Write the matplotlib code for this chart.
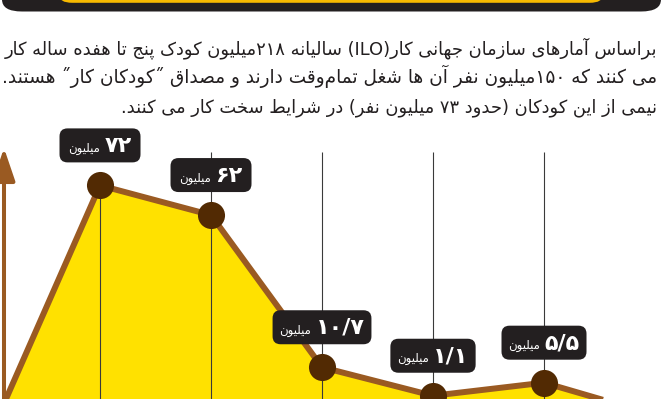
import re
import numpy as np
import matplotlib
matplotlib.use("Agg")
import matplotlib.pyplot as plt
from matplotlib.patches import FancyBboxPatch
from matplotlib.transforms import ScaledTranslation

# values read from the infographic (million children)
VALUES = [72, 62, 10.7, 1.1, 5.5]
VALUE_LABELS = ["۷۲", "۶۲", "۱۰/۷", "۱/۱", "۵/۵"]
UNIT = "میلیون"
PARAGRAPH = [
    "براساس آمارهای سازمان جهانی کار(ILO) سالیانه ۲۱۸میلیون کودک پنج تا هفده ساله کار",
    "می کنند که ۱۵۰میلیون نفر آن ها شغل تمام\u200cوقت دارند و مصداق ˝کودکان کار˝ هستند.",
    "نیمی از این کودکان (حدود ۷۳ میلیون نفر) در شرایط سخت کار می کنند.",
]

INK = "#231f20"
YELLOW = "#ffe100"
BROWN = "#9a5a22"
DARK_BROWN = "#522a03"

# presentation forms: isolated, final, (initial, medial)
FORMS = {
    "آ": "\ufe81\ufe82", "ا": "\ufe8d\ufe8e", "ب": "\ufe8f\ufe90\ufe91\ufe92",
    "پ": "\ufb56\ufb57\ufb58\ufb59", "ت": "\ufe95\ufe96\ufe97\ufe98",
    "ج": "\ufe9d\ufe9e\ufe9f\ufea0", "چ": "\ufb7a\ufb7b\ufb7c\ufb7d",
    "ح": "\ufea1\ufea2\ufea3\ufea4", "خ": "\ufea5\ufea6\ufea7\ufea8",
    "د": "\ufea9\ufeaa", "ذ": "\ufeab\ufeac", "ر": "\ufead\ufeae",
    "ز": "\ufeaf\ufeb0", "ژ": "\ufb8a\ufb8b", "س": "\ufeb1\ufeb2\ufeb3\ufeb4",
    "ش": "\ufeb5\ufeb6\ufeb7\ufeb8", "ص": "\ufeb9\ufeba\ufebb\ufebc",
    "ض": "\ufebd\ufebe\ufebf\ufec0", "ط": "\ufec1\ufec2\ufec3\ufec4",
    "ظ": "\ufec5\ufec6\ufec7\ufec8", "ع": "\ufec9\ufeca\ufecb\ufecc",
    "غ": "\ufecd\ufece\ufecf\ufed0", "ف": "\ufed1\ufed2\ufed3\ufed4",
    "ق": "\ufed5\ufed6\ufed7\ufed8", "ک": "\ufb8e\ufb8f\ufb90\ufb91",
    "گ": "\ufb92\ufb93\ufb94\ufb95", "ل": "\ufedd\ufede\ufedf\ufee0",
    "م": "\ufee1\ufee2\ufee3\ufee4", "ن": "\ufee5\ufee6\ufee7\ufee8",
    "و": "\ufeed\ufeee", "ه": "\ufee9\ufeea\ufeeb\ufeec",
    "ی": "\ufbfc\ufbfd\ufbfe\ufbff",
}
MIRROR = {"(": ")", ")": "("}


def rtl(text):
    out = []
    for i, c in enumerate(text):
        if c not in FORMS:
            out.append(c)
            continue
        f = FORMS[c]
        prev = text[i - 1] if i > 0 else ""
        nxt = text[i + 1] if i + 1 < len(text) else ""
        jp = len(FORMS.get(prev, "")) == 4
        jn = len(f) == 4 and nxt in FORMS
        out.append(f[3] if jp and jn else f[1] if jp else f[2] if jn else f[0])
    s = "".join(out).replace("\u200c", "")
    runs = re.findall(r"[A-Za-z0-9\u06f0-\u06f9]+(?:/[0-9\u06f0-\u06f9]+)*|.", s)
    return "".join(MIRROR.get(r, r) for r in reversed(runs))


fig = plt.figure(figsize=(6.63, 3.99), dpi=100)
fig.patch.set_facecolor("white")

# header bar (cut off at the top)
fig.add_artist(FancyBboxPatch((2 / 663, 1 - 11.5 / 399), 659 / 663, 0.2,
                              boxstyle="round,pad=0,rounding_size=0.03",
                              transform=fig.transFigure, fc=INK, ec="none"))
fig.add_artist(FancyBboxPatch((59 / 663, 1 - 2.8 / 399), 544 / 663, 0.2,
                              boxstyle="round,pad=0,rounding_size=0.02",
                              transform=fig.transFigure, fc="#f7b900", ec="none"))

# paragraph, right aligned; the first two lines are stretched to full width
renderer = fig.canvas.get_renderer()
lines = []
for k, line in enumerate(PARAGRAPH):
    t = fig.text(657 / 663, 1 - (54 + 29 * k) / 399, rtl(line), ha="right",
                 va="baseline", fontsize=13, color=INK, family="DejaVu Sans")
    lines.append(t)
w = lines[0].get_window_extent(renderer).width
base_fs = 13 * 653 / w
for t in lines:
    t.set_fontsize(base_fs)
w2 = lines[1].get_window_extent(renderer).width
lines[1].set_fontsize(min(base_fs * 654 / w2, base_fs * 1.05))

# chart area
ax = fig.add_axes([0, 0, 1, (399 - 140) / 399])
ax.set_xlim(-0.901, 5.072)
ax.set_ylim(0, 87.3)
ax.axis("off")

xs = np.arange(len(VALUES))
area_x = np.concatenate([[-0.847], xs, [4.505]])
area_y = np.concatenate([[0], VALUES, [0]])

ax.fill_between(area_x, area_y, 0, color=YELLOW, lw=0, zorder=1)
ax.vlines(xs[1:], 0, 83.3, color="#3a3a3a", lw=0.8, zorder=2)
ax.vlines(xs[0], 0, VALUES[0], color="#3a3a3a", lw=0.8, zorder=2)
ax.plot(area_x, area_y, color=BROWN, lw=4.3, solid_joinstyle="round",
        zorder=3, clip_on=False)
ax.plot(xs, VALUES, "o", ms=19.5, color=DARK_BROWN, mec="none", zorder=4,
        clip_on=False)

# y axis arrow
ax.annotate("", xy=(4, 251), xycoords="figure pixels", xytext=(4, -5),
            textcoords="figure pixels", annotation_clip=False,
            arrowprops=dict(arrowstyle="-|>,head_length=1.0,head_width=0.34",
                            mutation_scale=20, color=BROWN, lw=2.9,
                            shrinkA=0, shrinkB=0))

# value labels in dark rounded boxes above the markers
BOX_H, LIFT = 0.34, 0.40
for x, v, lab in zip(xs, VALUES, VALUE_LABELS):
    tr = fig.dpi_scale_trans + ScaledTranslation(x, v, ax.transData)
    tn = ax.text(0, LIFT - 0.065, lab, transform=tr, ha="left", va="baseline",
                 fontsize=16, fontweight="bold", color="white", zorder=6,
                 family="DejaVu Sans", clip_on=False)
    tw = ax.text(0, LIFT - 0.065, rtl(UNIT), transform=tr, ha="right",
                 va="baseline", fontsize=8.5, color="white", zorder=6,
                 family="DejaVu Sans", clip_on=False)
    wn = tn.get_window_extent(renderer).width / 100
    ww = tw.get_window_extent(renderer).width / 100
    gap = 0.04
    content = wn + ww + gap
    box_w = max(0.81, content + 0.14)
    left = -content / 2
    tw.set_x(left + ww)
    tn.set_x(left + ww + gap)
    ax.add_patch(FancyBboxPatch((-box_w / 2, LIFT - BOX_H / 2), box_w, BOX_H,
                                boxstyle="round,pad=0,rounding_size=0.08",
                                transform=tr, fc=INK, ec="none", zorder=5,
                                clip_on=False))

fig.savefig("out.png", dpi=100)
